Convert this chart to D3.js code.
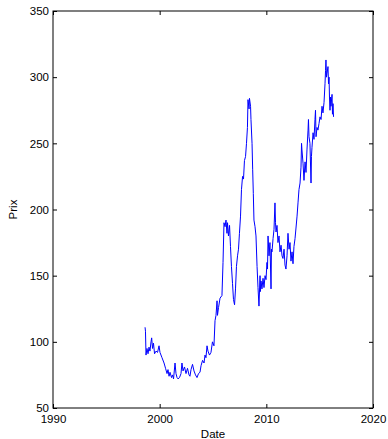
<!DOCTYPE html>
<html>
<head>
<meta charset="utf-8">
<script src="https://cdnjs.cloudflare.com/ajax/libs/d3/7.8.5/d3.min.js"></script>
<style>
  body { margin: 0; background: #fff; }
  text { font-family: Arial, "Liberation Sans", sans-serif; }
</style>
</head>
<body>
<div id="chart"></div>
<script>
// dates as decimal years, prices
var dates = [
  1998.63, 1998.67, 1998.72, 1998.81, 1998.91, 1999.00, 1999.09, 1999.19, 1999.25, 1999.33,
  1999.42, 1999.52, 1999.66, 1999.80, 1999.94, 2000.03, 2000.22, 2000.41, 2000.55, 2000.69,
  2000.78, 2000.88, 2000.97, 2001.11, 2001.20, 2001.30, 2001.44, 2001.53, 2001.63, 2001.72,
  2001.86, 2002.00, 2002.09, 2002.19, 2002.33, 2002.47, 2002.61, 2002.75, 2002.84, 2002.94,
  2003.08, 2003.22, 2003.36, 2003.50, 2003.64, 2003.78, 2003.88, 2004.02, 2004.16, 2004.25,
  2004.34, 2004.44, 2004.53, 2004.67, 2004.81, 2004.95, 2005.09, 2005.19, 2005.28, 2005.38,
  2005.42, 2005.52, 2005.66, 2005.84, 2005.94, 2006.03, 2006.13, 2006.22, 2006.31, 2006.36,
  2006.45, 2006.55, 2006.64, 2006.73, 2006.83, 2006.92, 2007.02, 2007.11, 2007.20, 2007.30,
  2007.39, 2007.48, 2007.58, 2007.67, 2007.77, 2007.86, 2007.95, 2008.05, 2008.14, 2008.23,
  2008.28, 2008.38, 2008.42, 2008.52, 2008.56, 2008.66, 2008.72, 2008.78, 2008.84, 2008.94,
  2009.03, 2009.13, 2009.22, 2009.31, 2009.41, 2009.45, 2009.50, 2009.59, 2009.69, 2009.78,
  2009.88, 2009.97, 2010.06, 2010.11, 2010.16, 2010.25, 2010.34, 2010.44, 2010.48, 2010.53,
  2010.63, 2010.72, 2010.81, 2010.86, 2010.91, 2011.00, 2011.09, 2011.19, 2011.28, 2011.38,
  2011.47, 2011.56, 2011.66, 2011.75, 2011.84, 2011.94, 2012.03, 2012.13, 2012.22, 2012.31,
  2012.41, 2012.50, 2012.59, 2012.69, 2012.78, 2012.88, 2012.97, 2013.06, 2013.16, 2013.25,
  2013.30, 2013.34, 2013.44, 2013.53, 2013.63, 2013.72, 2013.81, 2013.91, 2013.95, 2014.00,
  2014.09, 2014.19, 2014.23, 2014.28, 2014.38, 2014.47, 2014.56, 2014.61, 2014.66, 2014.75,
  2014.84, 2014.94, 2015.03, 2015.13, 2015.22, 2015.31, 2015.41, 2015.50, 2015.55, 2015.59,
  2015.64, 2015.69, 2015.78, 2015.83, 2015.88, 2015.92, 2015.97, 2016.02, 2016.06, 2016.16,
  2016.20, 2016.25, 2016.30
];
var prices = [
  111, 108, 90, 95, 91, 96, 93, 100, 103, 95,
  99, 91, 93, 92, 97, 92, 88, 84, 80, 76,
  79, 74, 77, 73, 75, 72, 84, 76, 73, 72,
  73, 76, 84, 78, 81, 76, 80, 75, 74, 79,
  83, 78, 75, 73, 76, 77, 82, 86, 84, 90,
  88, 97, 93, 90, 92, 100, 97, 116, 120, 131,
  120, 126, 133, 135, 160, 190, 187, 192, 182, 190,
  180, 188, 172, 157, 144, 132, 128, 140, 157, 165,
  170, 182, 195, 215, 225, 223, 237, 240, 250, 262,
  283, 276, 284, 278, 268, 250, 230, 212, 192, 187,
  180, 157, 141, 127, 150, 138, 146, 140, 148, 141,
  150, 147, 160, 155, 180, 165, 175, 140, 170, 168,
  178, 185, 205, 190, 183, 188, 175, 180, 168, 173,
  165, 163, 170, 158, 155, 165, 182, 170, 175, 161,
  168, 159, 172, 178, 186, 195, 205, 215, 220, 232,
  250, 245, 235, 222, 236, 228, 245, 260, 268, 255,
  250, 220, 240, 247, 258, 253, 268, 275, 255, 262,
  260, 265, 270, 268, 278, 273, 281, 295, 305, 313,
  300, 303, 308, 295, 300, 285, 275, 285, 278, 287,
  272, 280, 270
];
var xTicks = [1990, 2000, 2010, 2020];
var yTicks = [50, 100, 150, 200, 250, 300, 350];

var margin = { top: 11, right: 15, bottom: 31, left: 53 },
    width = 388 - margin.left - margin.right,
    height = 439 - margin.top - margin.bottom;

var data = dates.map(function(d, i) { return { date: d, price: prices[i] }; });

var x = d3.scaleLinear().domain([1990, 2020]).range([0, width]);
var y = d3.scaleLinear().domain([50, 350]).range([height, 0]);

var svg = d3.select("#chart")
    .append("svg")
    .attr("width", 388)
    .attr("height", 439)
    .append("g")
    .attr("transform", "translate(" + margin.left + "," + margin.top + ")");

// the price line
svg.append("path")
    .datum(data)
    .attr("fill", "none")
    .attr("stroke", "#0000ff")
    .attr("stroke-width", 1)
    .attr("d", d3.line()
        .x(function(d) { return x(d.date); })
        .y(function(d) { return y(d.price); }));

// matlab style box with inward ticks on all sides
var tk = 4;
function styleAxis(g) {
    g.select(".domain").remove();
    g.selectAll(".tick line").attr("stroke", "#000");
    g.selectAll(".tick text")
        .attr("fill", "#000")
        .style("font-size", "11.5px")
        .style("font-family", "Arial, 'Liberation Sans', sans-serif");
}

svg.append("g")
    .attr("transform", "translate(0," + height + ")")
    .call(d3.axisBottom(x).tickValues(xTicks).tickFormat(d3.format("d"))
        .tickSizeInner(-tk).tickSizeOuter(0).tickPadding(7))
    .call(styleAxis);

svg.append("g")
    .call(d3.axisTop(x).tickValues(xTicks).tickFormat("")
        .tickSizeInner(-tk).tickSizeOuter(0))
    .call(styleAxis);

svg.append("g")
    .call(d3.axisLeft(y).tickValues(yTicks)
        .tickSizeInner(-tk).tickSizeOuter(0).tickPadding(4))
    .call(styleAxis);

svg.append("g")
    .attr("transform", "translate(" + width + ",0)")
    .call(d3.axisRight(y).tickValues(yTicks).tickFormat("")
        .tickSizeInner(-tk).tickSizeOuter(0))
    .call(styleAxis);

svg.append("rect")
    .attr("width", width)
    .attr("height", height)
    .attr("fill", "none")
    .attr("stroke", "#000")
    .attr("stroke-width", 1);

// axis titles
svg.append("text")
    .attr("x", width / 2)
    .attr("y", height + 30)
    .attr("text-anchor", "middle")
    .style("font-size", "11.5px")
    .text("Date");

svg.append("text")
    .attr("transform", "translate(" + (-36) + "," + (height / 2) + ")rotate(-90)")
    .attr("text-anchor", "middle")
    .style("font-size", "11.5px")
    .text("Prix");
</script>
</body>
</html>
